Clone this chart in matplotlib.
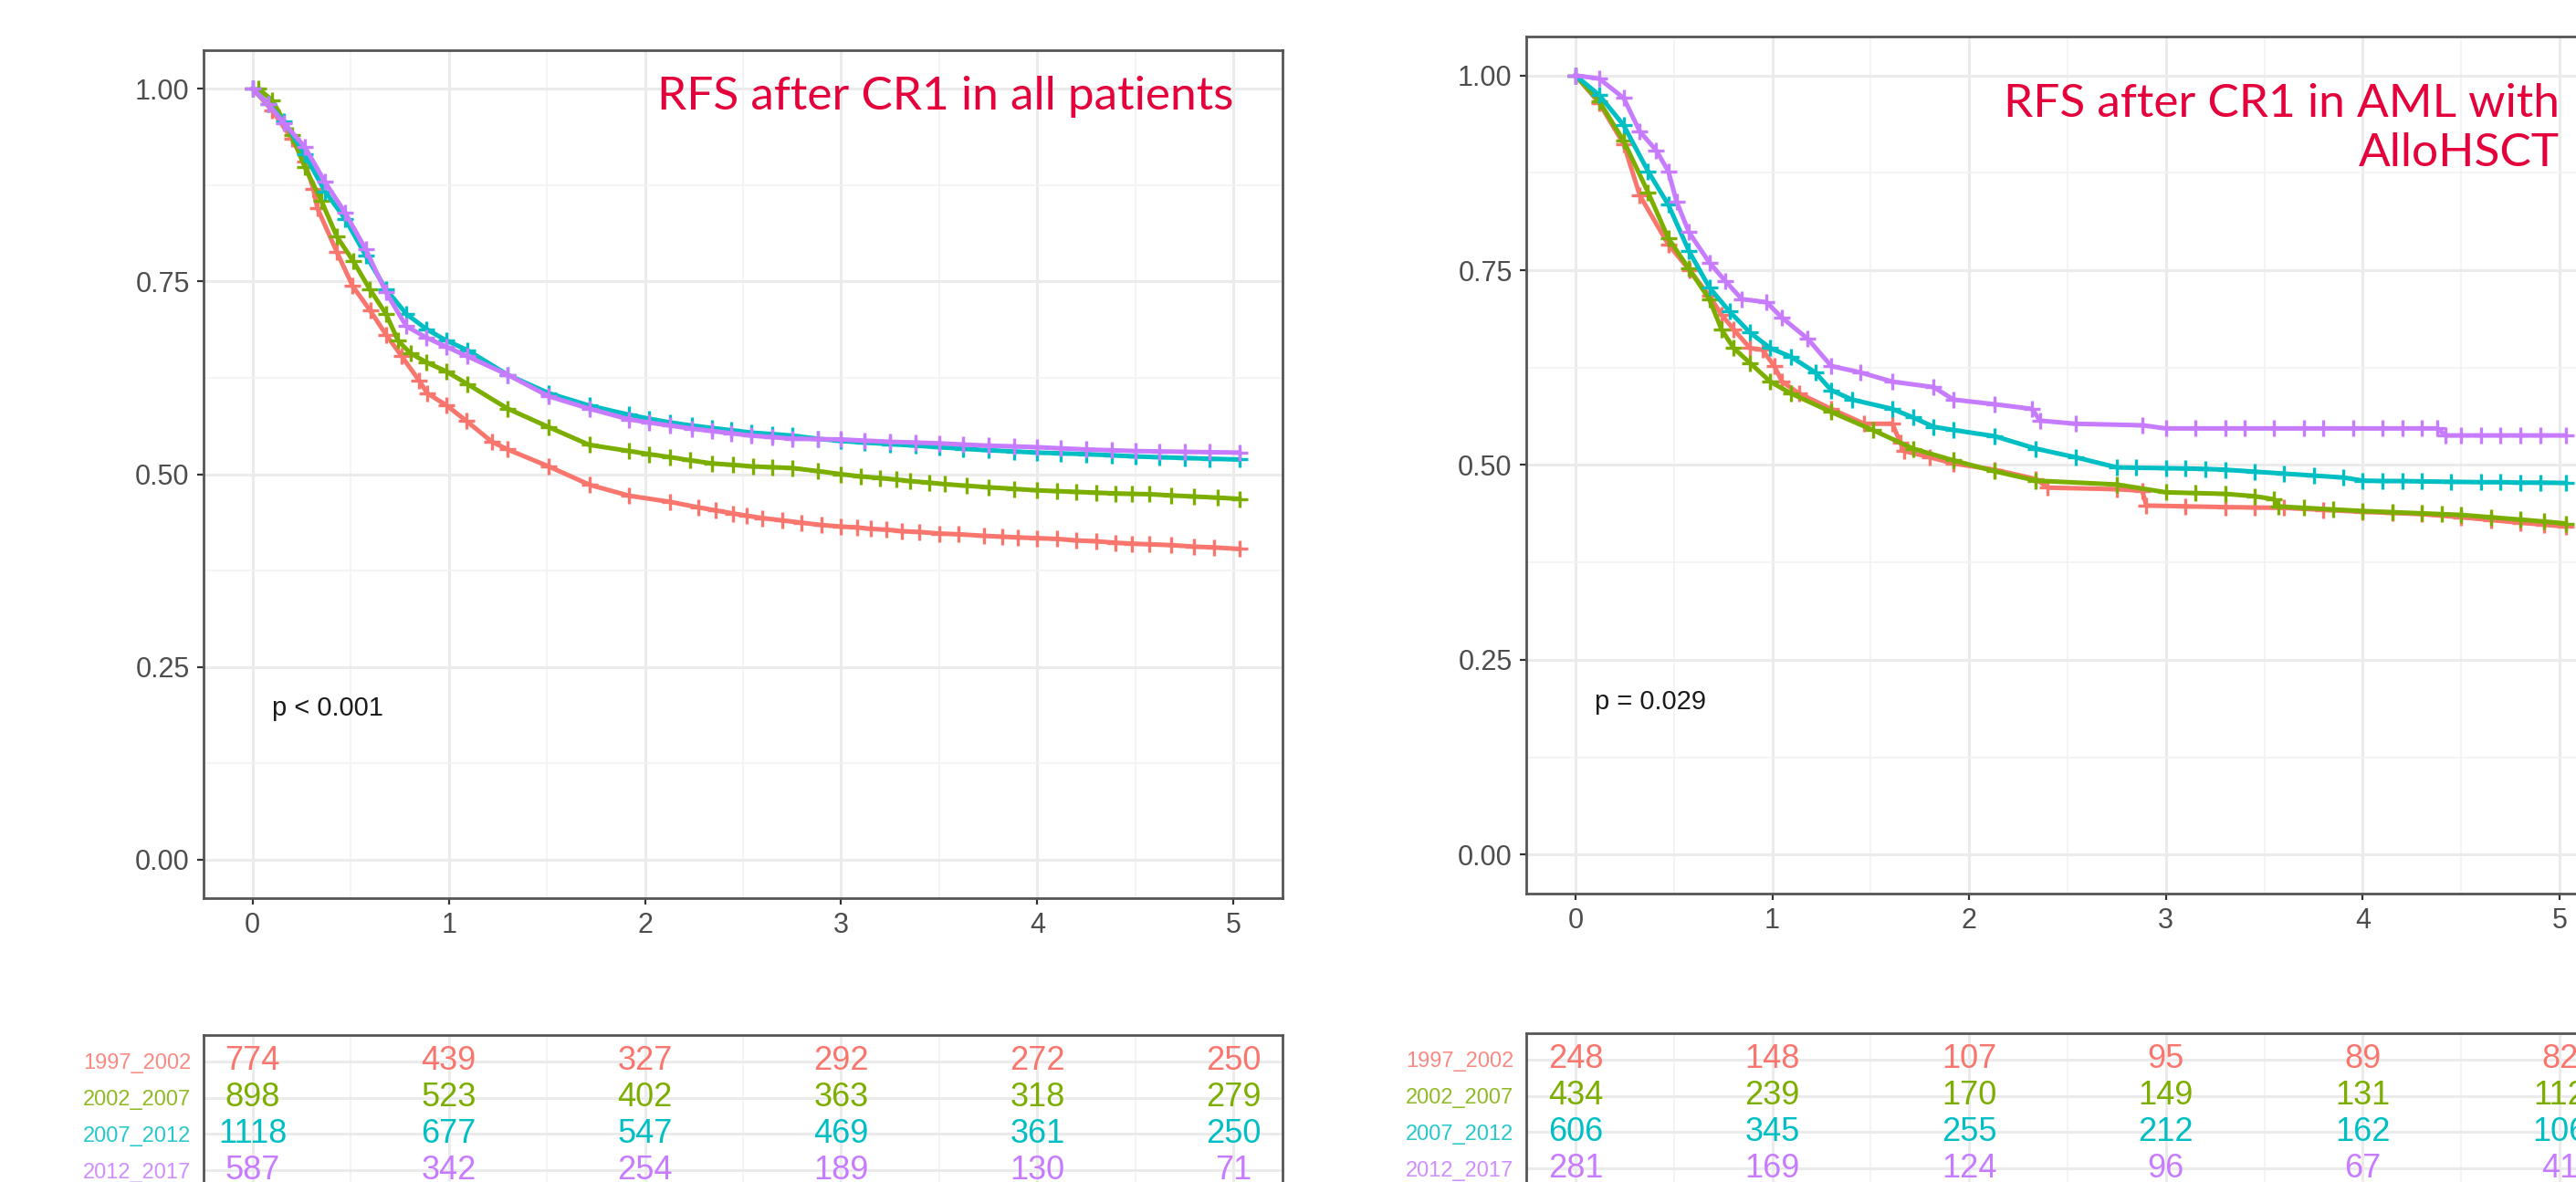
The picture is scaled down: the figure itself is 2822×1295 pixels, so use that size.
import numpy as np
import matplotlib
matplotlib.use('Agg')
import matplotlib.pyplot as plt
from matplotlib.ticker import MultipleLocator

W, H = 2822, 1295

groups = ['1997_2002', '2002_2007', '2007_2012', '2012_2017']
colors = ['#F8766D', '#7CAE00', '#00BFC4', '#C77CFF']
table_times = [0, 1, 2, 3, 4, 5]

# left panel: RFS after CR1 in all patients
all_red_t = [0, 0.1, 0.2, 0.265, 0.31, 0.33, 0.43, 0.51, 0.60, 0.68, 0.76, 0.85, 0.89, 0.99, 1.09, 1.22, 1.30, 1.51, 1.72, 1.92,
             2.13, 2.27, 2.36, 2.45, 2.52, 2.6, 2.7, 2.8, 2.9, 3.0, 3.08, 3.15, 3.23, 3.31, 3.4, 3.5, 3.6, 3.73, 3.82, 3.9,
             4.0, 4.1, 4.2, 4.3, 4.4, 4.48, 4.57, 4.68, 4.8, 4.9, 5.03]
all_red_s = [1.0, 0.972, 0.935, 0.905, 0.87, 0.845, 0.788, 0.744, 0.712, 0.681, 0.653, 0.621, 0.605, 0.589, 0.569, 0.542, 0.532, 0.510, 0.486, 0.472,
             0.464, 0.457, 0.453, 0.449, 0.446, 0.443, 0.44, 0.437, 0.434, 0.432, 0.431, 0.429, 0.428, 0.426, 0.425, 0.423, 0.422, 0.420, 0.419, 0.418,
             0.417, 0.416, 0.414, 0.413, 0.411, 0.410, 0.409, 0.408, 0.406, 0.405, 0.403]
all_green_t = [0.03, 0.1, 0.2, 0.265, 0.35, 0.43, 0.514, 0.597, 0.68, 0.742, 0.804, 0.887, 0.99, 1.094, 1.30, 1.51, 1.716,
               1.92, 2.02, 2.13, 2.23, 2.34, 2.45, 2.55, 2.65, 2.75, 2.88, 3.0, 3.1, 3.2, 3.28, 3.35, 3.45, 3.53, 3.64, 3.75, 3.88,
               4.0, 4.1, 4.2, 4.3, 4.4, 4.48, 4.57, 4.68, 4.8, 4.92, 5.03]
all_green_s = [1.0, 0.985, 0.94, 0.899, 0.855, 0.808, 0.776, 0.74, 0.708, 0.673, 0.657, 0.645, 0.633, 0.617, 0.585, 0.561, 0.538,
               0.530, 0.526, 0.522, 0.518, 0.514, 0.512, 0.510, 0.509, 0.508, 0.504, 0.500, 0.497, 0.495, 0.493, 0.491, 0.489, 0.487, 0.485, 0.483, 0.481,
               0.479, 0.478, 0.477, 0.476, 0.475, 0.4745, 0.474, 0.4725, 0.471, 0.4695, 0.468]
all_cyan_t = [0, 0.08, 0.16, 0.265, 0.369, 0.472, 0.576, 0.68, 0.783, 0.887, 0.99, 1.094, 1.30, 1.51, 1.716,
              1.92, 2.02, 2.13, 2.24, 2.34, 2.44, 2.54, 2.65, 2.75, 2.88, 3.0, 3.12, 3.25, 3.38, 3.5, 3.62, 3.75, 3.88,
              4.0, 4.12, 4.25, 4.38, 4.5, 4.62, 4.75, 4.88, 5.03]
all_cyan_s = [1.0, 0.98, 0.958, 0.915, 0.867, 0.831, 0.784, 0.74, 0.708, 0.688, 0.673, 0.661, 0.629, 0.605, 0.589,
              0.577, 0.572, 0.567, 0.563, 0.56, 0.557, 0.554, 0.552, 0.55, 0.546, 0.543, 0.541, 0.539, 0.537, 0.535, 0.533, 0.531, 0.5295,
              0.528, 0.527, 0.526, 0.5245, 0.523, 0.522, 0.521, 0.520, 0.519]
all_purple_t = [0, 0.08, 0.16, 0.265, 0.369, 0.472, 0.576, 0.68, 0.783, 0.887, 0.99, 1.094, 1.30, 1.51, 1.716,
                1.92, 2.02, 2.13, 2.24, 2.34, 2.44, 2.54, 2.65, 2.75, 2.88, 3.0, 3.12, 3.25, 3.38, 3.5, 3.62, 3.75, 3.88,
                4.0, 4.12, 4.25, 4.38, 4.5, 4.62, 4.75, 4.88, 5.03]
all_purple_s = [1.0, 0.98, 0.955, 0.925, 0.879, 0.839, 0.792, 0.736, 0.692, 0.677, 0.665, 0.653, 0.629, 0.601, 0.585,
                0.571, 0.567, 0.563, 0.559, 0.556, 0.553, 0.55, 0.548, 0.546, 0.5455, 0.545, 0.5435, 0.542, 0.541, 0.540, 0.5385, 0.537, 0.536,
                0.535, 0.5335, 0.532, 0.531, 0.530, 0.5295, 0.529, 0.5285, 0.528]

# right panel: RFS after CR1 in AML with AlloHSCT
allo_red_t = [0, 0.12, 0.245, 0.327, 0.472, 0.58, 0.68, 0.742, 0.804, 0.887, 0.95, 1.01, 1.05, 1.135, 1.30, 1.467, 1.61, 1.65, 1.67,
              1.80, 1.92, 2.13, 2.34, 2.40, 2.75, 2.88, 2.90, 3.1, 3.3, 3.45, 3.6, 3.8, 4.0, 4.15, 4.3, 4.5, 4.65, 4.8, 4.92, 5.03]
allo_red_s = [1.0, 0.965, 0.912, 0.846, 0.783, 0.75, 0.717, 0.693, 0.674, 0.65, 0.648, 0.627, 0.607, 0.592, 0.572, 0.553, 0.553, 0.529, 0.518,
              0.51, 0.502, 0.494, 0.482, 0.471, 0.469, 0.467, 0.448, 0.447, 0.446, 0.4455, 0.445, 0.4425, 0.440, 0.4385, 0.437, 0.433, 0.4295, 0.426, 0.4235, 0.421]
allo_green_t = [0, 0.12, 0.245, 0.369, 0.472, 0.576, 0.68, 0.742, 0.804, 0.887, 0.99, 1.094, 1.30, 1.51, 1.716, 1.92, 2.13, 2.34, 2.75,
                3.0, 3.15, 3.3, 3.45, 3.55, 3.57, 3.7, 3.85, 4.0, 4.15, 4.3, 4.4, 4.5, 4.65, 4.8, 4.92, 5.03]
allo_green_s = [1.0, 0.967, 0.916, 0.85, 0.791, 0.752, 0.713, 0.674, 0.65, 0.631, 0.607, 0.592, 0.568, 0.545, 0.521, 0.506, 0.492, 0.480, 0.475,
                0.465, 0.464, 0.463, 0.460, 0.456, 0.447, 0.445, 0.443, 0.441, 0.4395, 0.438, 0.437, 0.436, 0.433, 0.43, 0.4275, 0.425]
allo_cyan_t = [0, 0.12, 0.245, 0.369, 0.472, 0.576, 0.68, 0.783, 0.887, 0.99, 1.094, 1.218, 1.30, 1.405, 1.61, 1.716, 1.82, 1.92, 2.13,
               2.34, 2.54, 2.75, 2.85, 3.0, 3.1, 3.2, 3.3, 3.45, 3.6, 3.75, 3.9, 4.0, 4.1, 4.2, 4.3, 4.45, 4.6, 4.7, 4.8, 4.9, 5.03]
allo_cyan_s = [1.0, 0.975, 0.936, 0.877, 0.834, 0.775, 0.728, 0.697, 0.67, 0.65, 0.639, 0.619, 0.596, 0.584, 0.572, 0.561, 0.549, 0.545, 0.537,
               0.521, 0.510, 0.497, 0.4965, 0.496, 0.4955, 0.495, 0.494, 0.4915, 0.489, 0.4865, 0.484, 0.480, 0.4795, 0.4795, 0.479, 0.4785, 0.478, 0.478, 0.4775, 0.4775, 0.477]
allo_purple_t = [0, 0.12, 0.245, 0.327, 0.41, 0.472, 0.514, 0.576, 0.68, 0.762, 0.845, 0.97, 1.05, 1.18, 1.30, 1.446, 1.61, 1.82, 1.92,
                 2.13, 2.32, 2.36, 2.54, 2.88, 3.0, 3.15, 3.3, 3.4, 3.55, 3.7, 3.8, 3.95, 4.1, 4.2, 4.3, 4.38, 4.42, 4.5, 4.6, 4.7, 4.8, 4.9, 5.03]
allo_purple_s = [1.0, 0.996, 0.971, 0.928, 0.904, 0.877, 0.838, 0.799, 0.76, 0.736, 0.713, 0.709, 0.689, 0.662, 0.627, 0.619, 0.607, 0.600, 0.584,
                 0.578, 0.572, 0.557, 0.553, 0.551, 0.547, 0.547, 0.547, 0.547, 0.547, 0.547, 0.547, 0.547, 0.547, 0.547, 0.547, 0.547, 0.538, 0.538, 0.538, 0.538, 0.538, 0.538, 0.538]

# numbers at risk
all_risk_1 = [774, 439, 327, 292, 272, 250]
all_risk_2 = [898, 523, 402, 363, 318, 279]
all_risk_3 = [1118, 677, 547, 469, 361, 250]
all_risk_4 = [587, 342, 254, 189, 130, 71]
allo_risk_1 = [248, 148, 107, 95, 89, 82]
allo_risk_2 = [434, 239, 170, 149, 131, 112]
allo_risk_3 = [606, 345, 255, 212, 162, 106]
allo_risk_4 = [281, 169, 124, 96, 67, 41]

title_all = 'RFS after CR1 in all patients'
title_allo = 'RFS after CR1 in AML with\nAlloHSCT'
p_all = 'p < 0.001'
p_allo = 'p = 0.029'

plt.rcParams['font.family'] = ['Liberation Sans', 'DejaVu Sans']


def px(x0, y0, x1, y1):
    return [x0 / W, 1 - y1 / H, (x1 - x0) / W, (y1 - y0) / H]


def style_axes(ax):
    for sp in ax.spines.values():
        sp.set_color('#555555')
        sp.set_linewidth(2.0)
    ax.set_xlim(-0.25, 5.25)
    ax.xaxis.set_major_locator(MultipleLocator(1))
    ax.xaxis.set_minor_locator(MultipleLocator(0.5))
    ax.grid(which='major', color='#EBEBEB', lw=2.2)
    ax.grid(which='minor', color='#F3F3F3', lw=1.3)
    ax.set_axisbelow(True)
    ax.tick_params(which='minor', length=0)
    ax.tick_params(which='major', length=5, width=1.6, color='#333333',
                   labelcolor='#4D4D4D', labelsize=22, pad=6)


def km_panel(rect, curves, title, title_y, pval):
    ax = fig.add_axes(rect)
    style_axes(ax)
    ax.set_ylim(-0.05, 1.05)
    ax.yaxis.set_major_locator(MultipleLocator(0.25))
    ax.yaxis.set_minor_locator(MultipleLocator(0.125))
    ax.yaxis.set_major_formatter(matplotlib.ticker.FormatStrFormatter('%.2f'))
    for (t, s), c in zip(curves, colors):
        ax.plot(t, s, color=c, lw=3.6, marker='+', ms=13, mew=2.4,
                solid_joinstyle='round')
    # va='baseline' on multi-line text sits on the last line's baseline
    ax.text(5.0, title_y, title, ha='right', va='baseline', ma='right',
            color='#E4003B', fontsize=37, family=['Lato', 'DejaVu Sans'],
            linespacing=1.22)
    ax.text(0.10, 0.196, pval, ha='left', va='center', fontsize=21,
            color='#1A1A1A')
    return ax


def risk_panel(rect, rows):
    ax = fig.add_axes(rect)
    style_axes(ax)
    ax.set_ylim(4.73, 0.27)
    ax.set_yticks([1, 2, 3, 4])
    ax.set_yticklabels(groups)
    ax.tick_params(axis='y', length=0, labelsize=17, pad=10)
    ax.tick_params(axis='x', length=0, labelbottom=False)
    for lab, c in zip(ax.get_yticklabels(), colors):
        lab.set_color(c)
        lab.set_alpha(0.85)
    for i, (vals, c) in enumerate(zip(rows, colors)):
        for t, v in zip(table_times, vals):
            ax.text(t, i + 1, str(v), ha='center', va='center',
                    fontsize=26, color=c)
    return ax


fig = plt.figure(figsize=(W / 100, H / 100), dpi=100)

km_panel(px(223, 55, 1405, 984),
         [(all_red_t, all_red_s), (all_green_t, all_green_s),
          (all_cyan_t, all_cyan_s), (all_purple_t, all_purple_s)],
         title_all, 0.973, p_all)
km_panel(px(1672, 40, 2858, 979),
         [(allo_red_t, allo_red_s), (allo_green_t, allo_green_s),
          (allo_cyan_t, allo_cyan_s), (allo_purple_t, allo_purple_s)],
         title_allo, 0.884, p_allo)

risk_panel(px(223, 1134, 1405, 1311),
           [all_risk_1, all_risk_2, all_risk_3, all_risk_4])
risk_panel(px(1672, 1132, 2858, 1309),
           [allo_risk_1, allo_risk_2, allo_risk_3, allo_risk_4])

fig.savefig('out.png', dpi=100)
